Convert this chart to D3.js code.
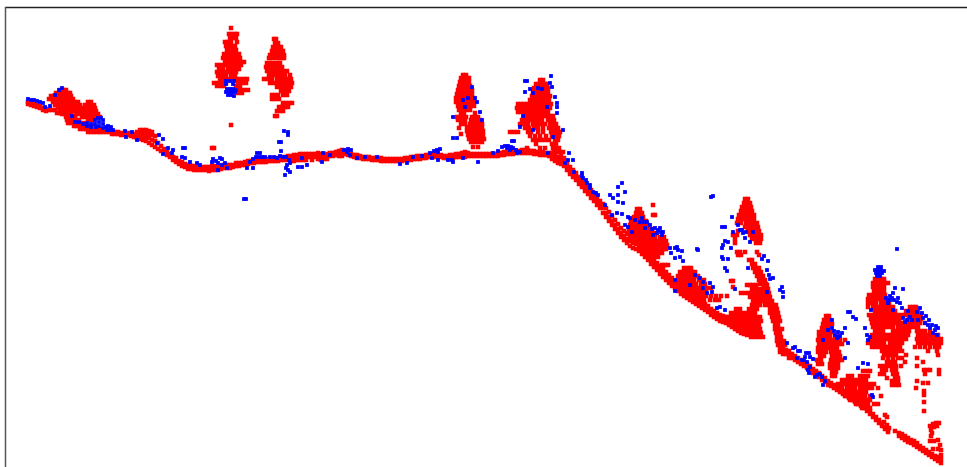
<!DOCTYPE html>
<html lang="en">
<head>
  <meta charset="UTF-8">
  <title>Point cloud profile</title>
  <script src="https://d3js.org/d3.v7.min.js"></script>
  <style>
    html, body { margin: 0; background: #fff; overflow: hidden; }
    svg { display: block; }
    .cloud { filter: blur(0.35px); }
  </style>
</head>
<body>
<svg id="chart" width="967" height="467"></svg>
<script>
  // Values. Ground strips: [x, y, y, ...]
  const groundLeft = [[28,102,104],[31,103,105],[34,104,106],[37,105,107],[40,106,108],[43,108,110],[46,109,111]];
  const groundFlatA = [[112,132,134],[115,132,134],[118,132,134],[121,133,135],[125,133,135],[128,133,135],[131,134,136],[134,134,137],[137,132,135,138],[140,130,133,136,139],[143,130,133,136,140],[146,130,133,137,141],[149,131,134,138,143],[152,132,135,140,145],[155,136,141,147],[158,143,149],[161,146,151],[164,149,153],[167,152,155],[170,154,157],[173,157,160],[176,158,162],[179,161,164],[182,162,166],[185,164,167],[188,165,169],[191,166,169],[194,166,170],[197,167,170],[200,167,170],[203,167,170],[206,167,170],[209,167,171],[212,166,170],[215,166,170],[218,167,170],[221,166,169],[224,165,168],[227,165,168],[230,165,168],[233,165,167],[236,163,166],[239,163,166],[242,163,165],[245,162,165],[248,161,164],[251,161,163],[254,160,163],[257,160,162],[260,160,162],[263,159,162],[266,159,162],[269,159,161],[272,159,161],[275,159,161],[278,158,161],[281,158,160],[284,157,160]];
  const groundFlatB = [[288,156,160],[291,156,159,161],[294,155,158,161],[297,155,158,160],[300,154,157,160],[303,154,157,160],[306,154,157,160],[309,154,157],[312,154,157,160],[315,154,157],[318,153,156,159],[321,154,157,160],[324,154,157,159],[327,154,156,159],[330,153,156],[333,153,156],[336,152,155],[339,151,154,156],[342,150,153,156],[345,151,154],[348,152,155],[351,154,156],[354,155,157],[357,155,158],[360,156,158],[363,157,159],[366,157,159],[369,157,159],[372,158,160],[375,158,160],[378,158,160],[381,158,161],[384,159,161],[387,159,161],[390,159,161],[393,159,161],[396,159,161],[399,159,161],[402,159,161],[405,158,160],[408,158,160],[411,157,160],[414,157,159],[417,156,159],[420,156,159],[423,156,158],[426,155,158],[429,155,157],[432,154,157],[435,154,157],[438,155,157],[441,155,157],[444,156,158],[447,156,158],[450,155,158],[453,155,158],[456,154,157],[459,154,157],[462,153,156],[465,152,155,157],[468,153,156],[471,154,156],[474,154,156],[477,154,156],[480,154,156],[483,154,156],[486,154,156],[489,154,156],[492,154,156],[495,154,156],[498,153,156],[501,153,155],[504,152,155],[507,152,154],[510,152,154],[513,151,154],[516,151,153],[519,151,153],[522,150,153],[525,150,153],[528,150,153],[531,151,153],[534,151,154],[537,152,154],[540,152,155],[543,152,155],[546,153,155],[549,153,156]];
  const groundSteep = [[552,153,156,159],[555,154,157,161],[558,157,160,163],[561,156,160,164],[564,158,162,166],[567,162,166,170],[570,167,171,174],[573,170,174,177],[576,173,177,180],[579,177,180,184],[582,180,184,187],[585,184,187,191],[588,187,191,194],[591,190,194,198],[594,193,197,201],[597,197,201,205],[600,201,204,208],[603,204,208,213],[606,208,213,217],[609,212,217,221],[612,216,221,225],[615,220,225,229],[618,224,229,233],[621,228,233,237],[624,231,236,240],[627,234,239,243],[630,236,241,246],[633,238,243,248],[636,239,244,249],[639,243,247,251],[642,246,250,254],[645,249,253,257],[648,252,256,260],[651,256,260,264],[654,259,263,267],[657,263,267,270],[660,266,270,274],[663,269,273,277],[666,272,276,280],[669,275,279,283],[672,278,282,286],[675,281,285,288],[678,284,288,291],[681,287,290,294],[684,289,292,296],[687,291,295,298],[690,293,297,300],[693,296,299,302],[696,298,301,304],[699,300,303,306],[702,302,305,308],[705,304,307,310],[708,306,309,312],[711,309,312,315],[714,311,314,317],[717,313,316,319],[720,315,318,321],[723,316,319,322],[726,317,320,323],[729,318,321,325],[732,320,324,327],[735,322,326,329],[738,324,328,331],[741,326,330,333],[744,327,331,334],[747,328,331,335]];
  const groundLower = [[780,345,349,352],[783,347,351,354],[786,350,354],[789,351,355,358],[792,354,358],[795,356,360],[798,358,362],[801,360,364],[804,362,366],[807,364,368],[810,366,370],[813,369,373],[816,371,375],[819,373,377],[822,376,380],[825,378,382],[828,381,385],[831,383,386],[834,385,388],[837,387,390],[840,389,392],[843,391,394],[846,393,396],[849,394,398],[852,396,400],[855,399,402],[858,401,404],[861,403,406],[864,405,408],[867,408,411],[870,411,414],[873,414,417],[876,417,420],[879,420,423],[882,423,426],[885,427,429],[888,430,432],[895,431],[899,433,436],[902,434,438],[905,436,440],[908,438,442],[911,440,443],[914,441,445],[917,443,447],[920,446,449],[923,448,451],[926,450,453],[929,452,455],[932,454,457],[935,456,459],[938,457,461],[941,459,463]];

  // Crowns and brush: [y, x, x, ...]
  const hillRows = [[90,60,63,66],[93,56,59,62,65,68,70],[96,51,54,57,60,63,66,69,71],[99,49,52,55,58,61,64,67,70,73],[102,53,56,59,62,65,68,71,75,78,88,91],[105,55,58,61,64,67,70,74,77,80,85,88,91,94],[108,58,61,64,67,70,73,76,79,82,85,88,91,95],[110,49,52,55],[111,60,63,66,69,72,76,79,82,85,88,91,94,96],[113,57,60],[114,62,65,68,71,76,79,83,86,89,92,95,98],[117,66,69,72,75,82,85,88,91,94,97,100],[120,67,70,73,76,79,88,91,94],[123,68,71,74,77,80,84],[126,74,77,80,83,86,89,92],[129,80,83,86,89,92,95,98,101],[132,88,91,94,97,100,103,106,109,112]];
  const pineA = [[28,231],[34,229,232,235,237],[38,230,233,236],[42,225,228,231,237],[46,226,229,232,235],[50,227,230,233,236],[54,224,227,230,233,236,239],[58,223,226,229,233,236,240],[62,225,229,233,237,241,244],[65,217,221,225,229,233,237,241],[69,219,223,228,232,236,239],[72,217,220,224,228,232,236],[76,218,222,226,231,235],[79,220,224,228,232,236,240,244,247],[83,214,218,222,226,238,242,246],[86,217,221,224,236,240],[90,240,244,248],[93,238,242],[125,231],[148,212,214]];
  const pineB = [[39,274,276],[43,275,278],[47,273,276,279,281],[51,272,275,278,281,283],[55,270,273,276,279,282,284],[58,269,272,276,279,282,284],[63,267,270,273,277,280],[67,266,269,272,275,279,282],[71,267,271,275,279,283,287],[75,269,273,277,281,285,290],[79,264,268,272,277,281,284,288,291],[83,270,274,278,282,285,289,292],[87,277,281,284,288,291],[91,281,285,289],[95,272,275,278,283,287],[99,272,275,279],[103,283,286,289,292],[107,279,282,285,288],[111,277,280,283],[116,275,277]];
  const pineC = [[75,463,466],[78,461,464,467,469],[82,460,463,466,469],[86,459,462,465,468,470],[90,458,461,464,467,470,472],[94,457,460,463,466,469,472],[98,456,459,462,466,470,473],[102,456,459,462,465,468,471,474],[106,458,461,464,467,470,474],[110,459,463,466,470],[113,461,464,475],[117,457,460,463,466,472,475,478],[120,458,462,465,471,474,477,480],[124,461,465,470,473,476,479,482],[127,467,470,473,476,479,482],[128,459],[131,467,470,473,476,480,483],[134,461],[135,468,471,474,477,480,483],[139,469,472,475,478,481,484],[142,471,474,478,482],[147,473,478]];
  const pineD = [[80,540,543],[84,536,539,542,545,547],[88,534,537,540,543,546,548],[92,533,536,539,542,545,548],[96,532,535,538,541,544,547,550],[100,530,533,536,539,543,546,549],[104,518,521,524,527,530,533,536,540,544,548,551],[108,517,520,524,527,530,534,538,542,546,550],[112,518,521,525,528,532,536,540,544,548],[116,526,530,534,538,542,546,550,553],[120,522,526,530,534,538,542,548,551,554],[124,520,524,528,533,537,541,545,550,553,556],[128,525,529,534,538,543,549,552,555,558],[132,510,514,518,528,531,538,543,551,554,557,560],[136,530,535,540,546,552,556,559],[140,533,537,541,545,549,555,558],[144,536,552,556],[148,527,540,545,553,556,559],[152,554,557,560,563]];
  const shrubA = [[205,653],[209,637,640],[213,636,639,642],[215,653,655],[217,634,637,640,643],[221,631,634,637,640,643,646],[225,630,633,637,641,645,648],[229,629,632,636,640,644,648,652],[233,628,632,636,640,644,648,652,656],[237,631,635,639,643,647,651,655,660,664],[241,634,638,642,646,650,654,658,662,666],[245,640,644,648,652,656,660,664,667],[249,644,648,652,656,660,664,666],[253,650,654,658,662],[257,654,658],[265,662,665,668]];
  const shrubB = [[268,684,688,691],[272,680,683,686,689,692,695],[276,678,681,684,687,690,694,698],[280,678,682,686,690,694,699,704],[281,731,733],[284,680,684,688,692,696,701,705],[287,733],[288,682,686,690,694,698,702,707,711],[292,686,690,694,698,702,706],[296,690,694,698,702,706,711,716,721,727],[300,696,700,704,710,715,719]];
  const coneTree = [[199,745,748],[203,744,747,750],[207,742,745,748,751],[211,741,744,747,750,752],[215,739,742,745,748,751,754],[219,738,742,746,750,754],[223,737,741,746,750,754,757],[227,745,748,752,756,758],[231,738,748,752,756,759],[235,733,737,750,754,758,761],[239,735,752,756,760,761],[243,735,756,760],[252,737,740,745,757],[255,738,741,759]];
  const fanRows = [[260,749,752],[264,752,755],[268,753,756,759],[272,755,758,761],[276,757,760,763],[280,759,762,765],[284,760,763,766],[285,747,750,753,756,764,767],[289,752,756,760,764,768],[293,741,745,749,753,757,761,765,769],[297,750,754,758,762,766,770],[301,753,757,761,765,769,772],[305,752,756,760,765,769,773,776],[309,736,740,749,753,757,770,774,777],[313,731,735,739,743,747,751,755,770,774,778],[317,728,732,736,740,744,748,752,756,760,772,776,779],[321,729,733,737,741,745,749,753,757,761,773,777,780],[325,731,735,739,743,747,751,755,759,775,778],[329,736,740,744,748,752,756,760,775,779,782],[333,745,749,753,757,761,776,780],[337,751,755,759,763,777,781],[341,777,781,784],[345,778,782,785]];
  const treeLow = [[316,826,829],[320,824,827,830],[324,823,826,829,832],[328,822,825,828],[332,819,822,825,828,831],[336,819,822,826,830,835,839],[340,818,821,825,829,833,837,840,845],[344,819,822,826,830,834,838,842],[348,818,821,825,829,833,837],[352,818,822,826,831,835,839],[356,820,824,832,836,840],[360,817,821,831,835,839,842],[364,818,822,830,834,838],[368,830,834,838],[372,832,836],[376,832,835]];
  const fanLow = [[371,863,867,870],[376,848,852,860,864,868],[380,842,846,850,854,858,862,866],[384,838,842,846,850,854,858,862,866,870,874],[388,838,842,847,851,855,860,864,868,872,878],[392,842,846,850,854,858,862,866],[396,845,849,853,857,861,865,870,881],[400,850,854,858,862,866,870],[404,856,860,864,868,874,878],[408,862,866,870],[415,885],[417,887],[422,884],[425,887],[428,889]];
  const standRight = [[279,875,878,881,884],[283,873,876,879,882,885,888],[287,873,877,881,884],[291,874,877,880,884],[295,869,873,877,881,885],[299,868,872,876,880,884],[303,868,872,876,881,885,889],[307,868,873,877,881,885,889,893,910,913,916],[311,875,879,883,887,891,895,906,910,914,918],[315,869,873,877,881,885,889,893,897,901,905,909,913,917,921],[319,871,875,879,883,887,891,895,899,909,913,917,921],[323,872,876,880,884,888,892,896,900,904,908,912,916,920,925],[327,873,877,881,885,889,893,898,902,906,910,914,918],[331,875,879,883,893,897,901,905,909,917,921,925,930],[335,872,876,880,884,888,892,896,900,904,908,918,922,926,930,934,938],[339,870,874,878,882,886,890,894,898,902,906,917,921,925,929,933,937,941],[343,868,872,876,880,884,890,894,898,902,918,922,926,930,934,938,941],[347,872,876,880,884,888,892,896,900,915,920,925,930,935,939],[351,882,886,890,894,898,902,928,937],[355,884,888,892,896,906,938],[358,883,888,893,898,902,917],[362,887,891,895,905,923],[366,880,884,888,892,896,901,917],[370,882,886,892,896,924,927,930,939],[374,880,884,893,897,925,939],[378,887,895,898],[381,892,895,898,917],[383,923,928],[385,892,896,899],[388,916],[391,924],[395,924],[402,924],[411,924]];
  const footRight = [[423,936,939],[424,933],[426,930,937],[427,934],[430,931],[433,932],[436,931],[440,938],[441,930,934],[445,940],[449,933,938],[450,941],[455,941]];

  // Blue returns: [x, y]
  const blueLeft = [[28,99],[31,100],[34,100],[37,101],[40,102],[43,103],[62,88],[59,90],[55,95],[45,107],[50,106],[72,116],[75,122],[79,122],[83,124],[87,123],[91,124],[95,124],[99,122],[103,120],[103,124],[106,127],[99,126],[103,128],[107,130],[110,130],[113,130],[125,131],[126,137],[132,132],[137,140],[159,135],[163,139],[183,148],[185,148],[157,143],[163,154],[168,148],[173,150],[172,153],[182,157],[185,158],[190,162],[197,163],[200,165],[212,162],[220,158],[218,163],[222,165],[225,163],[227,168],[218,170],[247,168],[253,168],[250,162],[253,159],[257,153],[260,153],[265,157],[270,157],[277,158],[283,157],[287,165],[290,163],[288,170],[285,175],[290,172],[298,167],[302,167],[307,165],[302,158],[281,151],[226,81],[230,81],[234,81],[226,84],[233,84],[227,89],[230,89],[233,89],[236,90],[226,92],[229,92],[232,92],[235,92],[228,95],[231,95],[234,96],[284,131],[288,132],[288,135],[279,142],[281,142],[246,199],[244,199]];
  const blueMiddle = [[323,153],[322,162],[330,155],[347,152],[350,155],[357,158],[365,157],[377,157],[400,164],[407,163],[413,157],[422,156],[430,153],[437,150],[438,152],[432,158],[438,160],[448,160],[453,162],[452,160],[463,158],[478,162],[493,153],[498,151],[502,147],[507,148],[510,150],[513,148],[517,153],[514,141],[512,141],[453,138],[457,138],[453,117],[463,100],[468,98],[475,98],[477,102],[472,87],[480,112],[482,120],[465,107],[525,81],[527,81],[551,76],[550,83],[552,87],[538,88],[542,89],[530,89],[533,93],[525,92],[555,97],[557,103],[557,107],[557,113],[547,107],[523,116],[520,127],[533,130],[563,130],[553,137],[548,153],[569,153],[568,160],[565,163],[573,160],[574,172],[582,173],[583,178],[587,183],[590,185],[593,192],[598,195],[610,195],[613,198],[618,187],[622,183],[625,192],[618,195],[618,202],[623,203],[605,205]];
  const blueRight = [[617,213],[622,214],[612,215],[628,217],[630,218],[625,225],[628,227],[632,232],[635,220],[642,218],[647,222],[650,225],[645,228],[655,228],[660,228],[663,232],[657,233],[662,235],[653,235],[670,248],[675,248],[678,250],[682,251],[677,247],[671,253],[675,258],[680,257],[683,261],[697,249],[698,250],[713,196],[711,197],[732,217],[722,227],[725,227],[733,232],[738,225],[740,230],[743,233],[745,238],[753,232],[750,242],[725,241],[728,242],[723,245],[722,248],[731,248],[722,257],[728,259],[723,259],[725,268],[727,271],[748,268],[762,259],[764,256],[768,261],[767,270],[769,275],[773,278],[770,279],[782,287],[780,290],[783,292],[783,297],[695,275],[700,278],[703,282],[710,283],[713,287],[712,292],[707,293],[703,288],[690,285],[675,280],[675,291],[720,307],[717,308],[725,310],[735,289],[767,292],[787,343],[793,348],[798,351]];
  const blueFar = [[850,312],[848,312],[853,317],[856,319],[897,249],[878,267],[881,267],[875,270],[878,270],[881,270],[884,271],[876,273],[879,273],[882,273],[877,276],[880,276],[888,300],[893,293],[897,302],[892,298],[895,288],[903,289],[900,303],[888,303],[893,310],[902,308],[908,311],[871,310],[865,328],[867,335],[870,337],[868,340],[903,318],[907,320],[912,320],[920,308],[917,312],[923,318],[925,323],[930,328],[935,330],[938,328],[937,335],[933,333],[928,325],[918,320],[828,330],[832,328],[835,335],[838,337],[842,333],[837,338],[845,328],[848,343],[823,340],[832,320],[845,358],[863,363],[868,364],[858,368],[795,347],[800,351],[805,357],[810,357],[807,362],[810,367],[802,360],[797,358],[813,359],[809,373],[817,375],[822,377],[815,377],[825,381],[823,385],[872,395],[873,397]];
  // Thicker blue patches that sit along the ground and in the crowns
  const blueClumps = [[95,120],[98,118],[101,118],[96,127],[91,127],[87,126],[108,126],[111,127],[213,159],[216,161],[222,159],[256,157],[259,157],[262,157],[274,157],[280,156],[286,157],[289,160],[286,168],[344,150],[348,149],[351,150],[434,151],[440,149],[505,146],[508,146],[511,147],[516,150],[520,152],[582,176],[586,180],[590,188],[596,193],[640,222],[644,222],[652,229],[658,230],[661,232],[886,298],[890,300],[894,300],[898,298],[890,296],[922,313],[926,316],[929,320],[932,325],[936,326],[905,322],[910,317],[838,332],[834,331],[840,336],[806,353],[809,353],[804,360],[808,370],[820,374],[742,230],[746,232]];

  const svg = d3.select("#chart"),
        width = +svg.attr("width"),
        height = +svg.attr("height");

  const x = d3.scaleLinear().domain([0, 967]).range([0, width]);
  const y = d3.scaleLinear().domain([0, 467]).range([0, height]);
  const RED_MARK = 4.5, BLUE_MARK = 3.8;

  // strips hold one x and many y, rows hold one y and many x
  const fromStrips = strips => strips.flatMap(([a, ...rest]) => rest.map(b => [a, b]));
  const fromRows = rows => rows.flatMap(([b, ...rest]) => rest.map(a => [a, b]));

  const redPoints = [
    ...fromStrips(groundLeft), ...fromStrips(groundFlatA), ...fromStrips(groundFlatB),
    ...fromStrips(groundSteep), ...fromStrips(groundLower),
    ...[hillRows, pineA, pineB, pineC, pineD, shrubA, shrubB, coneTree, fanRows, treeLow, fanLow, standRight, footRight].flatMap(fromRows)
  ];
  const bluePoints = [...blueLeft, ...blueMiddle, ...blueRight, ...blueFar, ...blueClumps];

  function drawPoints(points, color, size) {
    svg.append("g")
      .attr("class", "cloud")
      .attr("fill", color)
      .selectAll("rect")
      .data(points)
      .join("rect")
      .attr("x", d => x(d[0]) - size / 2)
      .attr("y", d => y(d[1]) - size / 2)
      .attr("width", size)
      .attr("height", size);
  }

  drawPoints(redPoints, "#ff0000", RED_MARK);
  drawPoints(bluePoints, "#0000ff", BLUE_MARK);

  // Only the top and left edges of the box show
  svg.append("line").attr("x1", 5).attr("x2", width).attr("y1", 7.5).attr("y2", 7.5)
    .attr("stroke", "#222").attr("stroke-width", 1.5);
  svg.append("line").attr("x1", 5.5).attr("x2", 5.5).attr("y1", 7).attr("y2", height)
    .attr("stroke", "#555").attr("stroke-width", 1.5);
</script>
</body>
</html>
